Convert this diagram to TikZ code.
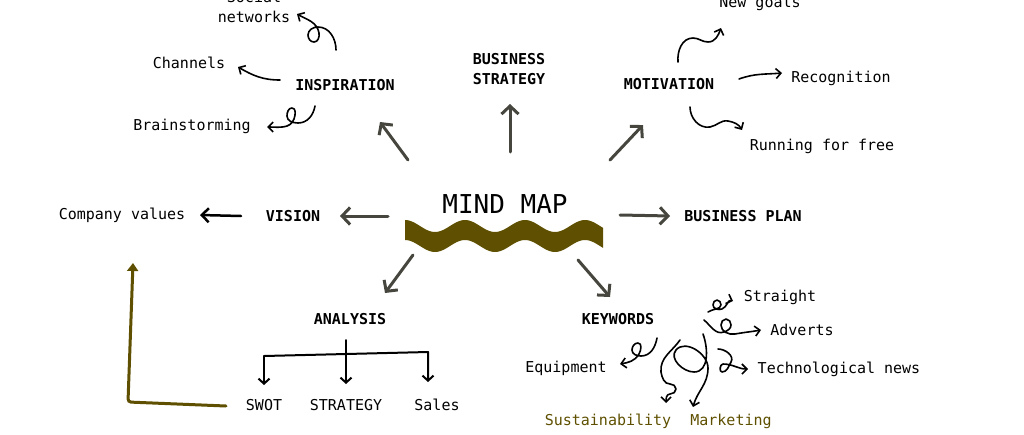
\documentclass[tikz,border=0pt]{standalone}
\usepackage{fontspec}
\setmonofont{DejaVu Sans Mono}
\usetikzlibrary{arrows.meta}
\definecolor{mapgray}{RGB}{70,70,62}
\definecolor{mapolive}{RGB}{94,80,0}

\begin{document}
\begin{tikzpicture}[x=1pt,y=-1pt,
  mono/.style={font=\fontsize{15}{20}\selectfont\ttfamily,inner sep=1pt},
  leaf/.style={mono,text height=11pt,text depth=0pt},
  branch/.style={leaf,font=\fontsize{15}{20}\selectfont\ttfamily\bfseries},
  bigarrow/.style={draw=mapgray,line width=3pt,line cap=round,-{Straight Barb[length=8pt,width=17pt]}},
  twig/.style={line width=1.6pt,line cap=round,line join=round,-{Straight Barb[length=5pt,width=10pt]}},
  stem/.style={line width=2pt,line cap=round,line join=round,-{Straight Barb[length=5pt,width=11pt]}}]
\useasboundingbox (0,0) rectangle (1024,434);
\fill[mapolive] plot[domain=405:603,samples=90] (\x,{226-6*cos(6*(\x-405))}) -- plot[domain=603:405,samples=90] (\x,{246-6*cos(6*(\x-405))}) -- cycle;
\node (main) at (505,204) {\fontsize{26}{30}\selectfont\ttfamily MIND MAP};
\node[branch] (insp) at (345,85) {INSPIRATION};
\node[mono,font=\fontsize{15}{20}\selectfont\ttfamily\bfseries,align=center] (strat) at (509,69) {BUSINESS\\STRATEGY};
\node[branch] (motiv) at (669,84) {MOTIVATION};
\node[branch] (vision) at (293,216) {VISION};
\node[branch] (plan) at (743,216) {BUSINESS PLAN};
\node[branch] (anal) at (350,319) {ANALYSIS};
\node[branch] (keyw) at (618,319) {KEYWORDS};
\node[mono,align=center] (social) at (254,7) {Social\\networks};
\node[leaf] (chan) at (189,63) {Channels};
\node[leaf] (brain) at (192,125) {Brainstorming};
\node[leaf] (goals) at (760,2) {New goals};
\node[leaf] (recog) at (841,77) {Recognition};
\node[leaf] (running) at (822,145) {Running for free};
\node[leaf] (values) at (122,214) {Company values};
\node[leaf] (swot) at (264,405) {SWOT};
\node[leaf] (strategy) at (346,405) {STRATEGY};
\node[leaf] (sales) at (437,405) {Sales};
\node[leaf] (equip) at (566,367) {Equipment};
\node[leaf] (straight) at (780,296) {Straight};
\node[leaf] (adverts) at (802,330) {Adverts};
\node[leaf] (technews) at (839,368) {Technological news};
\node[leaf,text=mapolive] (sustain) at (608,420) {Sustainability};
\node[leaf,text=mapolive] (market) at (731,420) {Marketing};
\draw[bigarrow] ([shift={(-97,-44)}]main.center) -- ([shift={(35,37)}]insp.center);
\draw[bigarrow] ([shift={(5,-52)}]main.center) -- ([shift={(1,35)}]strat.center);
\draw[bigarrow] ([shift={(105,-44)}]main.center) -- ([shift={(-26,41)}]motiv.center);
\draw[bigarrow] ([shift={(-117,12)}]main.center) -- ([shift={(47,0)}]vision.center);
\draw[bigarrow] ([shift={(115,11)}]main.center) -- ([shift={(-73,0)}]plan.center);
\draw[bigarrow] ([shift={(-92,51)}]main.center) -- ([shift={(35,-26)}]anal.center);
\draw[bigarrow] ([shift={(73,56)}]main.center) -- ([shift={(-8,-22)}]keyw.center);
\draw[twig] ([shift={(-9,-35)}]insp.center) to[out=90,in=0] (318,27) to[out=180,in=90] (308,35) to[out=-90,in=180] (314,42) to[out=0,in=-80] (319,33) to[out=100,in=-30] ([shift={(43,7)}]social.center);
\draw[twig] ([shift={(-65,-5)}]insp.center) to[out=180,in=-30] ([shift={(49,4)}]chan.center);
\draw[twig] ([shift={(-30,21)}]insp.center) to[out=-100,in=0] (298,123) to[out=180,in=-90] (287,116) to[out=90,in=180] (292,108) to[out=0,in=70] (294,119) to[out=250,in=0] ([shift={(75,2)}]brain.center);
\draw[twig] ([shift={(9,-22)}]motiv.center) to[out=95,in=180] (693,38) to[out=0,in=180] (708,42) to[out=0,in=-110] ([shift={(-39,26)}]goals.center);
\draw[twig] ([shift={(70,-5)}]motiv.center) to[out=20,in=185] ([shift={(-59,-4)}]recog.center);
\draw[twig] ([shift={(21,23)}]motiv.center) to[out=-90,in=190] (710,127) to[out=10,in=170] (728,121) to[out=-10,in=120] ([shift={(-80,-15)}]running.center);
\draw[line width=2.5pt,line cap=round,-{Straight Barb[length=7pt,width=14pt]}] ([shift={(-52,0)}]vision.center) -- ([shift={(78,1)}]values.center);
\draw[stem] ([shift={(0,-49)}]swot.center) -- ([shift={(-9,-53)}]sales.center) -- ([shift={(-9,-23)}]sales.center);
\draw[stem] ([shift={(0,-49)}]swot.center) -- ([shift={(0,-20)}]swot.center);
\draw[stem] ([shift={(-4,21)}]anal.center) -- ([shift={(0,-21)}]strategy.center);
\draw[twig] ([shift={(90,-7)}]keyw.center) to[out=35,in=200] (716,309) to[out=20,in=-90] (721,305) to[out=90,in=0] (717,300) to[out=180,in=90] (713,305) to[out=-90,in=200] (722,309) to[out=20,in=160] ([shift={(-47,5)}]straight.center);
\draw[twig] ([shift={(86,1)}]keyw.center) to[out=-40,in=200] (724,332) to[out=20,in=-90] (731,325) to[out=90,in=0] (726,319) to[out=180,in=90] (721,325) to[out=-90,in=190] (735,334) to[out=10,in=190] ([shift={(-41,0)}]adverts.center);
\draw[twig] ([shift={(100,30)}]keyw.center) to[out=0,in=60] (731,362) to[out=240,in=0] (722,372) to[out=180,in=180] (723,364) to[out=0,in=180] ([shift={(-91,1)}]technews.center);
\draw[twig] ([shift={(39,19)}]keyw.center) to[out=-100,in=0] (641,356) to[out=180,in=-90] (632,350) to[out=90,in=180] (638,343) to[out=0,in=60] (639,354) to[out=240,in=10] ([shift={(54,-3)}]equip.center);
\draw[twig] ([shift={(62,21)}]keyw.center) to[out=235,in=95] (661,372) to[out=-80,in=180] (670,384) to[out=0,in=90] (676,389) to[out=-90,in=0] (670,394) to[out=180,in=90] ([shift={(58,-17)}]sustain.center);
\draw[twig] ([shift={(85,15)}]keyw.center) to[out=-70,in=0] (694,372) to[out=180,in=230] (676,350) to[out=50,in=90] (708,368) to[out=-90,in=75] ([shift={(-38,-13)}]market.center);
\coordinate (lstart) at (226,406);
\coordinate (lcorner) at (128,402);
\coordinate (ltip) at (133,263);
\draw[mapolive,line width=3pt,line cap=round,rounded corners=3pt,-{Triangle[length=8pt,width=11pt]}] (lstart) -- (lcorner) -- (ltip);
\end{tikzpicture}
\end{document}
